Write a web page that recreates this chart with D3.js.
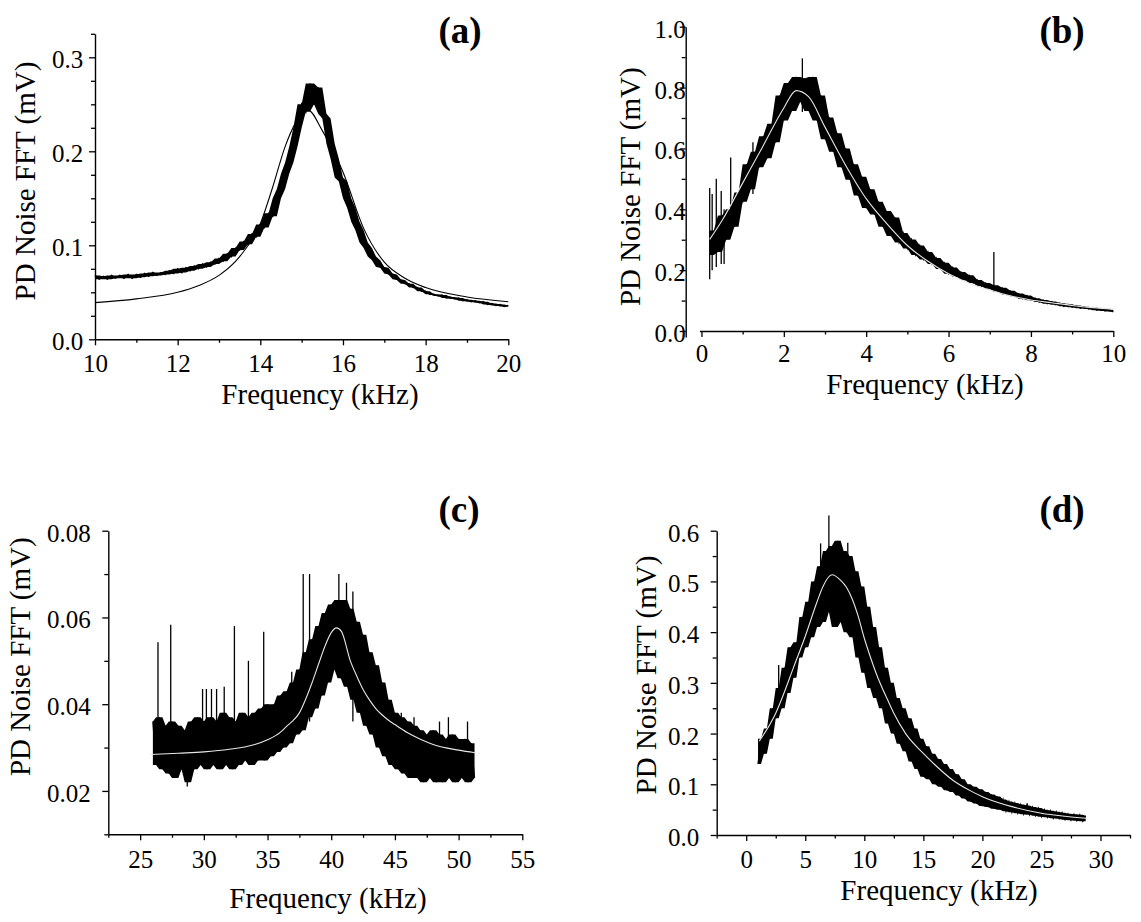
<!DOCTYPE html>
<html>
<head>
<meta charset="utf-8">
<script src="https://cdn.jsdelivr.net/npm/d3@7"></script>
<style>
body { margin: 0; background: #fff; }
svg { display: block; font-family: "Liberation Serif", "Times New Roman", serif; }
</style>
</head>
<body>
<svg id="chart" width="1141" height="922"></svg>
<script>
// ---- measured noise traces (mV), sampled from start freq at fixed step (kHz)
var traceA = [0.068,0.064,0.067,0.064,0.068,0.065,0.068,0.065,0.069,0.065,
  0.069,0.066,0.070,0.067,0.071,0.068,0.071,0.069,0.073,0.070,
  0.075,0.071,0.076,0.073,0.078,0.075,0.080,0.077,0.082,0.080,
  0.086,0.083,0.091,0.088,0.097,0.095,0.104,0.101,0.112,0.109,
  0.122,0.119,0.134,0.131,0.150,0.160,0.176,0.188,0.205,0.225,
  0.250,0.242,0.272,0.250,0.268,0.240,0.235,0.208,0.192,0.172,
  0.168,0.150,0.140,0.125,0.116,0.103,0.097,0.088,0.084,0.077,
  0.076,0.070,0.069,0.064,0.063,0.059,0.059,0.055,0.055,0.051,
  0.051,0.048,0.048,0.046,0.047,0.044,0.045,0.043,0.044,0.041,
  0.042,0.040,0.041,0.039,0.040,0.037,0.038,0.036,0.037,0.035,
  0.036]
var traceB = [0.25,0.33,0.26,0.38,0.30,0.40,0.343,0.455,0.425,0.548,
  0.466,0.589,0.538,0.64,0.568,0.681,0.62,0.774,0.692,0.815,
  0.723,0.835,0.753,0.83,0.723,0.835,0.692,0.774,0.63,0.702,
  0.589,0.65,0.538,0.60,0.497,0.548,0.445,0.507,0.404,0.466,
  0.383,0.425,0.343,0.394,0.312,0.373,0.291,0.322,0.271,0.301,
  0.25,0.281,0.235,0.26,0.22,0.24,0.204,0.224,0.188,0.209,
  0.178,0.194,0.168,0.183,0.158,0.168,0.147,0.158,0.139,0.15,
  0.129,0.142,0.12,0.132,0.114,0.123,0.106,0.117,0.101,0.108,
  0.095,0.102,0.09,0.097,0.086,0.092,0.081,0.088,0.078,0.084,
  0.075,0.08,0.072,0.077,0.068,0.074,0.066,0.07,0.063]
var traceC = [0.036,0.026,0.037,0.025,0.035,0.024,0.036,0.023,0.035,0.025,
  0.034,0.022,0.036,0.025,0.037,0.026,0.036,0.025,0.037,0.026,
  0.036,0.025,0.038,0.026,0.037,0.025,0.036,0.026,0.038,0.027,
  0.037,0.026,0.038,0.027,0.039,0.027,0.040,0.028,0.040,0.029,
  0.042,0.030,0.043,0.031,0.045,0.033,0.048,0.034,0.052,0.037,
  0.055,0.039,0.058,0.042,0.061,0.045,0.063,0.048,0.064,0.046,
  0.064,0.044,0.062,0.041,0.059,0.038,0.056,0.035,0.052,0.033,
  0.049,0.030,0.045,0.028,0.041,0.026,0.038,0.025,0.037,0.024,
  0.036,0.023,0.035,0.023,0.034,0.022,0.033,0.023,0.034,0.022,
  0.033,0.022,0.032,0.023,0.033,0.022,0.032,0.023,0.032,0.022,
  0.031,0.023]
var traceD = [0.14,0.19,0.16,0.21,0.19,0.25,0.23,0.29,0.25,0.33,
  0.28,0.37,0.31,0.38,0.35,0.43,0.37,0.46,0.39,0.50,
  0.41,0.53,0.42,0.56,0.44,0.57,0.41,0.58,0.42,0.56,
  0.40,0.55,0.39,0.52,0.35,0.49,0.32,0.45,0.29,0.41,
  0.27,0.37,0.25,0.33,0.22,0.30,0.20,0.27,0.18,0.25,
  0.165,0.23,0.145,0.21,0.13,0.19,0.115,0.175,0.11,0.16,
  0.10,0.15,0.095,0.14,0.088,0.13,0.085,0.12,0.078,0.11,
  0.072,0.10,0.066,0.095,0.062,0.09,0.057,0.085,0.055,0.08,
  0.052,0.076,0.05,0.07,0.047,0.066,0.045,0.063,0.043,0.06,
  0.041,0.058,0.04,0.055,0.038,0.053,0.036,0.05,0.035,0.048,
  0.033,0.046,0.032,0.044,0.03,0.042,0.029,0.041,0.028,0.04,
  0.027,0.038]

// ---- isolated spikes: [freq, bottom, top]
var spikesA = []
var spikesB = [[0.2,0.17,0.47],[0.26,0.2,0.45],[0.36,0.21,0.50],[0.48,0.22,0.46],[0.55,0.22,0.40],
  [0.71,0.33,0.57],[1.25,0.45,0.62],[2.45,0.72,0.896],[7.1,0.13,0.26]]
var spikesC = [[26.4,0.028,0.0543],[27.4,0.028,0.0583],[28.7,0.021,0.03],[29.9,0.03,0.0435],[30.2,0.03,0.0435],
  [30.6,0.03,0.0435],[31.0,0.03,0.0435],[31.6,0.03,0.044],[32.4,0.03,0.058],[33.5,0.03,0.050],[34.7,0.03,0.0567],
  [36.9,0.032,0.0475],[37.8,0.035,0.070],[38.3,0.036,0.070],[38.7,0.04,0.0567],[40.6,0.05,0.070],[41.2,0.05,0.068],
  [41.7,0.036,0.066],[45.5,0.028,0.038],[46.5,0.027,0.037],[48.5,0.025,0.036],[49.2,0.025,0.037],[50.7,0.025,0.036]]
var spikesD = [[2.75,0.25,0.335],[6.3,0.44,0.575],[7.0,0.45,0.63],[8.6,0.44,0.576],[23.8,0.045,0.0625]]

// ---- fitted curves: [freq, mV]
var fitA = [[10,0.039],[11,0.043],[12,0.050],[12.5,0.057],[13,0.068],[13.5,0.088],[14,0.123],[14.3,0.162],
  [14.6,0.205],[14.85,0.23],[15.15,0.244],[15.5,0.222],[16,0.178],[16.5,0.118],[17,0.082],[17.5,0.065],
  [18,0.055],[19,0.045],[20,0.040]]
var fitB = [[0.2,0.301],[0.5,0.363],[1,0.486],[1.5,0.609],[2,0.733],[2.3,0.79],[2.6,0.77],[3,0.67],
  [3.5,0.545],[4,0.435],[4.5,0.353],[5,0.281],[5.5,0.229],[6,0.188],[6.5,0.157],[7,0.135],[7.5,0.116],
  [8,0.102],[8.5,0.093],[9,0.084],[9.5,0.077],[10,0.072]]
var fitC = [[25.8,0.0284],[28,0.0287],[30,0.0290],[32,0.0296],[34,0.0307],[35,0.0318],[36,0.0335],
  [36.5,0.0349],[37,0.0362],[37.5,0.038],[38,0.0412],[38.5,0.045],[39,0.0492],[39.5,0.0533],[40,0.0565],
  [40.4,0.0576],[40.8,0.0568],[41.5,0.050],[42,0.0465],[42.5,0.0434],[43,0.0410],[43.5,0.0390],[44,0.0375],
  [44.5,0.0363],[45,0.0353],[46,0.0334],[47,0.0319],[48,0.0307],[50,0.0294],[51.3,0.0288]]
var fitD = [[1.1,0.185],[2,0.218],[2.5,0.24],[3,0.268],[4,0.33],[5,0.392],[6,0.46],[6.5,0.49],[7.26,0.513],
  [8,0.502],[8.5,0.488],[9,0.464],[9.5,0.43],[10,0.388],[10.5,0.352],[11,0.319],[12,0.265],[12.5,0.24],
  [13.5,0.2],[15,0.161],[16,0.138],[17.5,0.108],[19,0.087],[20,0.0756],[22.5,0.056],[25,0.043],[27,0.037],[28.8,0.033]]

// ---- tick values
var xMajorA = [10,12,14,16,18,20], xMinorA = [11,13,15,17,19]
var yMajorA = [0,0.1,0.2,0.3], yMinorA = [0.025,0.05,0.075,0.125,0.15,0.175,0.225,0.25,0.275,0.325]
var xMajorB = [0,2,4,6,8,10], xMinorB = [1,3,5,7,9]
var yMajorB = [0,0.2,0.4,0.6,0.8,1.0], yMinorB = [0.1,0.3,0.5,0.7,0.9]
var xMajorC = [25,30,35,40,45,50,55], xMinorC = [22.5,27.5,32.5,37.5,42.5,47.5,52.5]
var yMajorC = [0.02,0.04,0.06,0.08], yMinorC = [0.01,0.03,0.05,0.07]
var xMajorD = [0,5,10,15,20,25,30], xMinorD = [-2.5,2.5,7.5,12.5,17.5,22.5,27.5,32.5]
var yMajorD = [0,0.1,0.2,0.3,0.4,0.5,0.6], yMinorD = [0.05,0.15,0.25,0.35,0.45,0.55]

var tags = ['(a)', '(b)', '(c)', '(d)']
var xTitle = 'Frequency (kHz)'
var yTitle = 'PD Noise FFT (mV)'

var fmt1 = d3.format('.1f'), fmt2 = d3.format('.2f'), fmtInt = d3.format('d')
var serif = '"Liberation Serif", "Times New Roman", serif'

var panels = [
  { tag: tags[0], trace: traceA, t0: 10, dt: 0.1, spikes: spikesA, fit: fitA, fitColor: '#000', traceW: 1.5,
    xDomain: [10, 20], xRange: [95, 508.3], yDomain: [0, 0.325], yRange: [339.3, 33.8],
    xAxisAt: 0, yAxisAt: 95, xMajor: xMajorA, xMinor: xMinorA, yMajor: yMajorA, yMinor: yMinorA, yFmt: fmt1,
    xPad: 8.5, yPad: 5.7, xT: [320, 404], yT: [35, 181], tagAt: [460, 42.5] },
  { tag: tags[1], trace: traceB, t0: 0.2, dt: 0.1, spikes: spikesB, fit: fitB, fitColor: '#e6e6e6', traceW: 1.3,
    xDomain: [-0.05, 10], xRange: [699.4, 1113.3], yDomain: [-0.02, 1], yRange: [337.1, 26.7],
    xAxisAt: 0, yAxisAt: 685.7, xMajor: xMajorB, xMinor: xMinorB, yMajor: yMajorB, yMinor: yMinorB, yFmt: fmt1,
    xPad: 7, yPad: -6, xT: [925, 394], yT: [639.5, 186.7], tagAt: [1062, 42.5] },
  { tag: tags[2], trace: traceC, t0: 26, dt: 0.25, spikes: spikesC, fit: fitC, fitColor: '#e6e6e6', traceW: 1.3,
    xDomain: [22.5, 55], xRange: [108.3, 522.3], yDomain: [0.01, 0.08], yRange: [834.3, 530.7],
    xAxisAt: 0.01, yAxisAt: 108.3, xMajor: xMajorC, xMinor: xMinorC, yMajor: yMajorC, yMinor: yMinorC, yFmt: fmt2,
    xPad: 10, yPad: 11.6, xT: [328, 908], yT: [29.5, 656.7], tagAt: [459, 522] },
  { tag: tags[3], trace: traceD, t0: 1, dt: 0.25, spikes: spikesD, fit: fitD, fitColor: '#e6e6e6', traceW: 1.3,
    xDomain: [-2.5, 32.5], xRange: [716.7, 1130], yDomain: [0, 0.6], yRange: [835, 530.7],
    xAxisAt: 0, yAxisAt: 716.7, xMajor: xMajorD, xMinor: xMinorD, yMajor: yMajorD, yMinor: yMinorD, yFmt: fmt1,
    xPad: 9.5, yPad: 11.4, xT: [939, 900], yT: [656, 675], tagAt: [1062, 522] }
]

var svg = d3.select('#chart')

function styleAxis(a) {
  a.attr('font-family', serif).attr('font-size', 25)
  a.selectAll('.domain').attr('stroke', '#000').attr('stroke-width', 1.4)
  a.selectAll('.tick line').attr('stroke', '#000').attr('stroke-width', 1.3)
  a.selectAll('.tick text').attr('fill', '#000')
}

function drawPanel(p) {
  var x = d3.scaleLinear().domain(p.xDomain).range(p.xRange)
  var y = d3.scaleLinear().domain(p.yDomain).range(p.yRange)
  var g = svg.append('g')
  var pts = p.trace.map(function (v, i) { return [p.t0 + i * p.dt, v] })

  // solid core of the noisy trace: local min/max of neighbouring samples
  var n = p.trace.length
  var band = pts.map(function (d, i) {
    var a = p.trace[Math.max(i - 1, 0)], b = p.trace[Math.min(i + 1, n - 1)]
    return { f: d[0], lo: Math.min(a, d[1], b), hi: Math.max(a, d[1], b) }
  })
  g.append('path').datum(band)
    .attr('d', d3.area().x(function (d) { return x(d.f) })
      .y0(function (d) { return y(d.lo) }).y1(function (d) { return y(d.hi) }))
    .attr('fill', '#000')

  g.append('path').datum(pts)
    .attr('d', d3.line().x(function (d) { return x(d[0]) }).y(function (d) { return y(d[1]) }))
    .attr('fill', 'none').attr('stroke', '#000').attr('stroke-width', p.traceW).attr('stroke-linejoin', 'miter')

  g.selectAll('line.spike').data(p.spikes).enter().append('line')
    .attr('class', 'spike')
    .attr('x1', function (d) { return x(d[0]) }).attr('x2', function (d) { return x(d[0]) })
    .attr('y1', function (d) { return y(d[1]) }).attr('y2', function (d) { return y(d[2]) })
    .attr('stroke', '#000').attr('stroke-width', 1.3)

  g.append('path').datum(p.fit)
    .attr('d', d3.line().curve(d3.curveMonotoneX).x(function (d) { return x(d[0]) }).y(function (d) { return y(d[1]) }))
    .attr('fill', 'none').attr('stroke', p.fitColor).attr('stroke-width', 1.1)

  // x axis
  var xy = y(p.xAxisAt)
  var xMin = g.append('g').attr('transform', 'translate(0,' + xy + ')')
    .call(d3.axisBottom(x).tickValues(p.xMinor).tickSize(3.5).tickSizeOuter(0).tickFormat(''))
  xMin.select('.domain').remove()
  styleAxis(xMin)
  var xMaj = g.append('g').attr('transform', 'translate(0,' + xy + ')')
    .call(d3.axisBottom(x).tickValues(p.xMajor).tickSize(6).tickSizeOuter(0).tickPadding(p.xPad).tickFormat(fmtInt))
  styleAxis(xMaj)

  // y axis
  var yMin = g.append('g').attr('transform', 'translate(' + p.yAxisAt + ',0)')
    .call(d3.axisLeft(y).tickValues(p.yMinor).tickSize(4).tickSizeOuter(0).tickFormat(''))
  yMin.select('.domain').remove()
  styleAxis(yMin)
  var yMaj = g.append('g').attr('transform', 'translate(' + p.yAxisAt + ',0)')
    .call(d3.axisLeft(y).tickValues(p.yMajor).tickSize(6).tickSizeOuter(0).tickPadding(p.yPad).tickFormat(p.yFmt))
  styleAxis(yMaj)
  yMaj.selectAll('.tick text').attr('dy', '0.42em')

  // titles
  g.append('text').attr('x', p.xT[0]).attr('y', p.xT[1])
    .attr('text-anchor', 'middle').attr('font-size', 29).text(xTitle)
  g.append('text').attr('transform', 'translate(' + p.yT[0] + ',' + p.yT[1] + ') rotate(-90)')
    .attr('text-anchor', 'middle').attr('font-size', 29).text(yTitle)
  g.append('text').attr('x', p.tagAt[0]).attr('y', p.tagAt[1])
    .attr('text-anchor', 'middle').attr('font-size', 37).attr('font-weight', 'bold').text(p.tag)
}

panels.forEach(drawPanel)
</script>
</body>
</html>
